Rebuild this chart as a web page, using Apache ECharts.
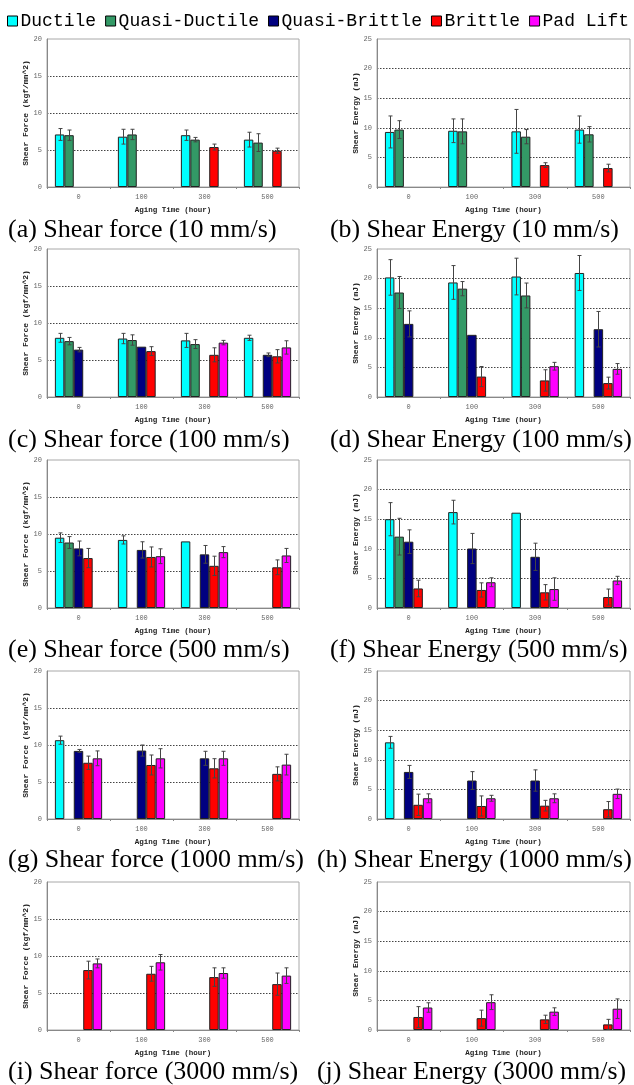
<!DOCTYPE html>
<html>
<head>
<meta charset="utf-8">
<script src="https://cdn.jsdelivr.net/npm/echarts@6/dist/echarts.min.js"></script>
<style>
  html, body { margin: 0; padding: 0; background: #fff; }
  #chart { width: 634px; height: 1085px; }
</style>
</head>
<body>
<div id="chart"></div>
<script>
// Aging time categories and failure-mode series
const categories = ['0', '100', '300', '500'];
const seriesNames = ['Ductile', 'Quasi-Ductile', 'Quasi-Brittle', 'Brittle', 'Pad Lift'];
const seriesColors = ['#00ffff', '#339966', '#000080', '#ff0000', '#ff00ff'];

// Each table: rows = failure mode (seriesNames order), columns = aging time
const force10 = [
  [7.1, 6.8, 7.0, 6.4],
  [7.0, 7.1, 6.4, 6.0],
  [null, null, null, null],
  [null, null, 5.4, 4.9],
  [null, null, null, null]
];
const force10Err = [
  [0.8, 1.0, 0.7, 1.0],
  [0.7, 0.7, 0.3, 1.2],
  [0, 0, 0, 0],
  [0, 0, 0.4, 0.35],
  [0, 0, 0, 0]
];
const energy10 = [
  [9.3, 9.5, 9.4, 9.7],
  [9.7, 9.4, 8.5, 8.9],
  [null, null, null, null],
  [null, null, 3.7, 3.2],
  [null, null, null, null]
];
const energy10Err = [
  [2.7, 2.0, 3.7, 2.3],
  [1.5, 2.1, 1.2, 1.3],
  [0, 0, 0, 0],
  [0, 0, 0.4, 0.65],
  [0, 0, 0, 0]
];
const force100 = [
  [8.0, 7.9, 7.65, 8.0],
  [7.55, 7.7, 7.15, null],
  [6.4, 6.8, null, 5.7],
  [null, 6.2, 5.7, 5.5],
  [null, null, 7.35, 6.7]
];
const force100Err = [
  [0.6, 0.7, 0.95, 0.35],
  [0.5, 0.7, 0.6, 0],
  [0.3, 0, 0, 0.25],
  [0, 0.6, 0.95, 0.9],
  [0, 0, 0.3, 0.9]
];
const energy100 = [
  [20.2, 19.35, 20.35, 20.95],
  [17.65, 18.3, 17.15, null],
  [12.35, 10.5, null, 11.45],
  [null, 3.45, 2.8, 2.35],
  [null, null, 5.2, 4.75]
];
const energy100Err = [
  [3.0, 2.85, 3.1, 2.95],
  [2.7, 1.2, 2.1, 0],
  [2.2, 0, 0, 3.0],
  [0, 1.7, 1.8, 1.0],
  [0, 0, 0.65, 0.9]
];
const force500 = [
  [9.5, 9.2, 9.0, null],
  [8.85, null, null, null],
  [8.05, 7.85, 7.25, null],
  [6.75, 6.9, 5.7, 5.5],
  [null, 7.0, 7.55, 7.1]
];
const force500Err = [
  [0.65, 0.55, 0, 0],
  [0.8, 0, 0, 0],
  [1.0, 1.1, 1.2, 0],
  [1.3, 1.35, 1.3, 1.0],
  [0, 1.0, 0.75, 0.95]
];
const energy500 = [
  [15.0, 16.2, 16.1, null],
  [12.05, null, null, null],
  [11.2, 10.05, 8.65, null],
  [3.3, 3.05, 2.65, 1.85],
  [null, 4.35, 3.2, 4.65]
];
const energy500Err = [
  [2.8, 2.0, 0, 0],
  [3.1, 0, 0, 0],
  [2.0, 2.55, 2.3, 0],
  [1.4, 1.2, 1.3, 1.35],
  [0, 0.75, 1.9, 0.7]
];
const force1000 = [
  [10.65, null, null, null],
  [null, null, null, null],
  [9.2, 9.25, 8.2, null],
  [7.6, 7.3, 6.85, 6.1],
  [8.2, 8.2, 8.2, 7.35]
];
const force1000Err = [
  [0.55, 0, 0, 0],
  [0, 0, 0, 0],
  [0.2, 0.75, 0.95, 0],
  [0.9, 1.35, 1.3, 0.95],
  [1.0, 1.3, 0.95, 1.4]
];
const energy1000 = [
  [12.95, null, null, null],
  [null, null, null, null],
  [7.95, 6.5, 6.5, null],
  [2.4, 2.2, 2.25, 1.65],
  [3.5, 3.5, 3.5, 4.25]
];
const energy1000Err = [
  [1.0, 0, 0, 0],
  [0, 0, 0, 0],
  [1.1, 1.5, 1.8, 0],
  [1.8, 1.7, 0.9, 1.3],
  [0.75, 0.5, 0.75, 0.8]
];
const force3000 = [
  [null, null, null, null],
  [null, null, null, null],
  [null, null, null, null],
  [8.1, 7.6, 7.15, 6.2],
  [9.0, 9.15, 7.7, 7.35]
];
const force3000Err = [
  [0, 0, 0, 0],
  [0, 0, 0, 0],
  [0, 0, 0, 0],
  [1.2, 1.0, 1.25, 1.5],
  [0.6, 1.05, 0.7, 1.05]
];
const energy3000 = [
  [null, null, null, null],
  [null, null, null, null],
  [null, null, null, null],
  [2.2, 2.0, 1.8, 0.95],
  [3.8, 4.7, 3.1, 3.6]
];
const energy3000Err = [
  [0, 0, 0, 0],
  [0, 0, 0, 0],
  [0, 0, 0, 0],
  [1.75, 1.35, 0.7, 0.85],
  [0.8, 1.25, 0.65, 1.65]
];

const panelTitles = [
  '(a) Shear force (10 mm/s)', '(b) Shear Energy (10 mm/s)',
  '(c) Shear force (100 mm/s)', '(d) Shear Energy (100 mm/s)',
  '(e) Shear force (500 mm/s)', '(f) Shear Energy (500 mm/s)',
  '(g) Shear force (1000 mm/s)', '(h) Shear Energy (1000 mm/s)',
  '(i) Shear force (3000 mm/s)', '(j) Shear Energy (3000 mm/s)'
];
const forceAxisName = 'Shear Force (kgf/mm^2)';
const energyAxisName = 'Shear Energy (mJ)';
const xAxisName = 'Aging Time (hour)';

const panels = [
  { mean: force10, err: force10Err, kind: 'force' },
  { mean: energy10, err: energy10Err, kind: 'energy' },
  { mean: force100, err: force100Err, kind: 'force' },
  { mean: energy100, err: energy100Err, kind: 'energy' },
  { mean: force500, err: force500Err, kind: 'force' },
  { mean: energy500, err: energy500Err, kind: 'energy' },
  { mean: force1000, err: force1000Err, kind: 'force' },
  { mean: energy1000, err: energy1000Err, kind: 'energy' },
  { mean: force3000, err: force3000Err, kind: 'force' },
  { mean: energy3000, err: energy3000Err, kind: 'energy' }
];

// Layout of the 5 x 2 panel grid (pixels)
const colLeft = [47, 377];
const colWidth = [252, 253];
const rowTop = [39, 249, 460, 671, 882];
const plotHeight = 148;
const captionY = [231, 441, 651, 861, 1073];
const captionLeft = [8, 330, 8, 330, 8, 330, 8, 317, 8, 317];
const captionSize = [26, 25.8];

const CAT_GAP = 0.25;
const monoFont = '"Liberation Mono", "DejaVu Sans Mono", monospace';

const grids = [], xAxes = [], yAxes = [], series = [], graphics = [];

panels.forEach((p, i) => {
  const row = Math.floor(i / 2), col = i % 2;
  const isForce = p.kind === 'force';
  grids.push({
    left: colLeft[col], top: rowTop[row], width: colWidth[col], height: plotHeight,
    show: true, borderColor: '#a8a8a8', borderWidth: 1, backgroundColor: '#fff'
  });
  xAxes.push({
    type: 'category', gridIndex: i, data: categories,
    name: xAxisName, nameLocation: 'middle', nameGap: 19,
    nameTextStyle: { fontFamily: monoFont, fontSize: 7.5, fontWeight: 'bold', color: '#222' },
    axisLine: { lineStyle: { color: '#888', width: 1 } },
    axisTick: { show: true, length: 2, alignWithLabel: false, lineStyle: { color: '#888' } },
    axisLabel: { fontFamily: monoFont, fontSize: 7, color: '#666', margin: 7 },
    splitLine: { show: false }
  });
  yAxes.push({
    type: 'value', gridIndex: i, min: 0, max: isForce ? 20 : 25, interval: 5,
    name: isForce ? forceAxisName : energyAxisName,
    nameLocation: 'middle', nameGap: 15, nameRotate: 90,
    nameTextStyle: { fontFamily: monoFont, fontSize: 8, fontWeight: 'bold', color: '#222' },
    axisLine: { show: true, lineStyle: { color: '#888', width: 1 } },
    axisTick: { show: false },
    axisLabel: { fontFamily: monoFont, fontSize: 7, color: '#666', margin: 5 },
    splitLine: {
      show: true, showMinLine: false, showMaxLine: false,
      lineStyle: { color: '#444', type: [1.5, 1.5], width: 1 }
    }
  });

  const errData = [];
  seriesNames.forEach((name, s) => {
    series.push({
      type: 'bar', name: name, xAxisIndex: i, yAxisIndex: i,
      data: p.mean[s],
      barGap: '0%', barCategoryGap: (CAT_GAP * 100) + '%',
      itemStyle: { color: seriesColors[s], borderColor: '#222', borderWidth: 1 },
      silent: true, z: 2
    });
    p.mean[s].forEach((v, c) => {
      const e = p.err[s][c];
      if (v != null && e > 0) errData.push([c, s, v - e, v + e]);
    });
  });

  // Error bars, centred on each bar slot of the category band
  series.push({
    type: 'custom', xAxisIndex: i, yAxisIndex: i, silent: true, z: 5,
    dimensions: ['cat', 'slot', 'lo', 'hi'],
    encode: { x: 0, y: [2, 3] },
    renderItem: function (params, api) {
      const c = api.value(0), s = api.value(1);
      const lo = api.coord([c, api.value(2)]);
      const hi = api.coord([c, api.value(3)]);
      const band = api.size([1, 0])[0];
      const bw = band * (1 - CAT_GAP) / seriesNames.length;
      const x = Math.round(lo[0] + (s - (seriesNames.length - 1) / 2) * bw) + 0.5;
      const cap = 2;
      const st = { stroke: '#444', lineWidth: 1 };
      return {
        type: 'group', children: [
          { type: 'line', shape: { x1: x, y1: lo[1], x2: x, y2: hi[1] }, style: st },
          { type: 'line', shape: { x1: x - cap, y1: lo[1], x2: x + cap, y2: lo[1] }, style: st },
          { type: 'line', shape: { x1: x - cap, y1: hi[1], x2: x + cap, y2: hi[1] }, style: st }
        ]
      };
    },
    data: errData
  });

  graphics.push({
    type: 'text', left: captionLeft[i], top: captionY[row] - 14,
    style: {
      text: panelTitles[i], fontFamily: '"Liberation Serif", "Times New Roman", serif',
      fontSize: captionSize[col], fill: '#000'
    }
  });
});

const chart = echarts.init(document.getElementById('chart'), null, { renderer: 'canvas' });
chart.setOption({
  backgroundColor: '#fff',
  animation: false,
  legend: {
    data: seriesNames,
    left: 2, top: 7,
    icon: 'rect', itemWidth: 10, itemHeight: 10, itemGap: 9,
    itemStyle: { borderColor: '#000', borderWidth: 1 },
    textStyle: { fontFamily: monoFont, fontSize: 18, color: '#000', padding: [0, 0, 0, -2] },
    selectedMode: false
  },
  grid: grids,
  xAxis: xAxes,
  yAxis: yAxes,
  series: series,
  graphic: graphics
});
</script>
</body>
</html>
